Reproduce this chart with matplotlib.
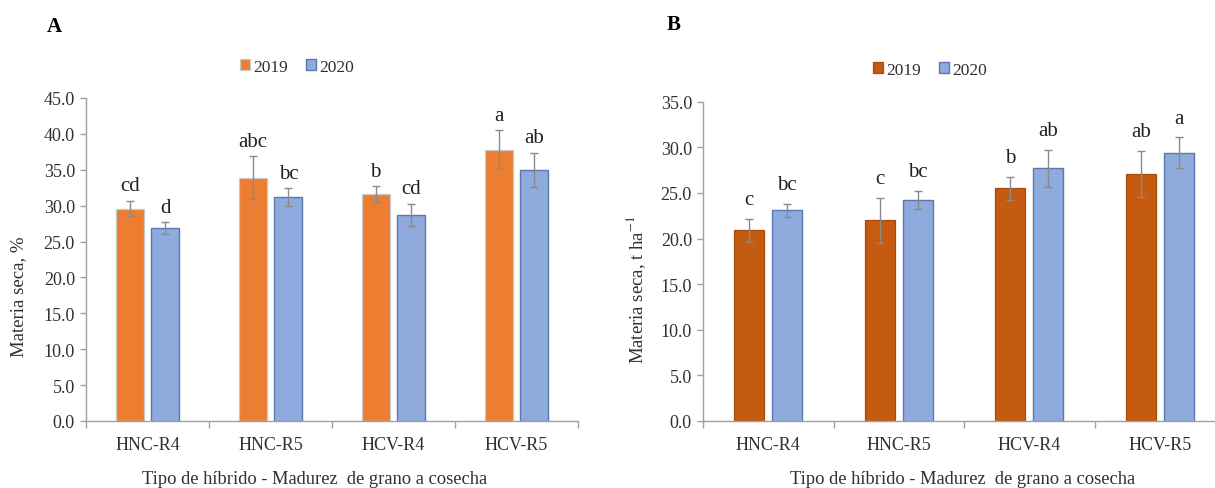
import numpy as np
import matplotlib.pyplot as plt

# Materia seca por tipo de hibrido y madurez, dos campañas
categories = ['HNC-R4', 'HNC-R5', 'HCV-R4', 'HCV-R5']
years = ['2019', '2020']

# Panel A: materia seca, %
pctA_2019 = [29.6, 33.9, 31.6, 37.8]
pctA_2020 = [26.9, 31.2, 28.7, 35.0]
errA_2019 = [1.1, 3.0, 1.1, 2.7]
errA_2020 = [0.8, 1.25, 1.6, 2.4]
letA_2019 = ['cd', 'abc', 'b', 'a']
letA_2020 = ['d', 'bc', 'cd', 'ab']

# Panel B: materia seca, t ha-1
tB_2019 = [20.9, 22.0, 25.5, 27.1]
tB_2020 = [23.1, 24.2, 27.7, 29.4]
errB_2019 = [1.25, 2.45, 1.25, 2.5]
errB_2020 = [0.7, 1.0, 2.05, 1.7]
letB_2019 = ['c', 'c', 'b', 'ab']
letB_2020 = ['bc', 'bc', 'ab', 'a']

plt.rcParams['font.family'] = ['Liberation Serif', 'DejaVu Serif']

W, H = 1215, 489
fig = plt.figure(figsize=(W / 100, H / 100), dpi=100)

axis_col = '#A0A0A0'
text_col = '#303030'
err_col = '#8A8A8A'


def px_axes(left, top, right, bottom):
    return fig.add_axes([left / W, 1 - bottom / H, (right - left) / W, (bottom - top) / H])


def draw_panel(ax, v19, v20, e19, e20, l19, l20, c19, edge19, ymax, lab_off):
    x = np.arange(len(categories))
    width = 0.23
    off = 0.145
    ax.bar(x - off, v19, width, color=c19, edgecolor=edge19, linewidth=0.9, label=years[0], zorder=2)
    ax.bar(x + off, v20, width, color='#8FAADC', edgecolor='#5B77AE', linewidth=1.0, label=years[1], zorder=2)
    ax.errorbar(x - off, v19, yerr=e19, fmt='none', ecolor=err_col, elinewidth=1, capsize=3, capthick=1, zorder=3)
    ax.errorbar(x + off, v20, yerr=e20, fmt='none', ecolor=err_col, elinewidth=1, capsize=3, capthick=1, zorder=3)
    for xi, v, e, t in zip(x - off, v19, e19, l19):
        ax.annotate(t, (xi, v + e), xytext=(0, lab_off), textcoords='offset points',
                    ha='center', va='bottom', fontsize=15, color='#202020')
    for xi, v, e, t in zip(x + off, v20, e20, l20):
        ax.annotate(t, (xi, v + e), xytext=(0, lab_off), textcoords='offset points',
                    ha='center', va='bottom', fontsize=15, color='#202020')

    ax.set_xlim(-0.5, len(categories) - 0.5)
    ax.set_ylim(0, ymax)
    ax.set_yticks(np.arange(0, ymax + 0.1, 5))
    ax.set_yticklabels(['%.1f' % t for t in np.arange(0, ymax + 0.1, 5)])
    ax.set_xticks(np.arange(-0.5, len(categories), 1.0))
    ax.set_xticklabels([])
    ax.set_xticks(x, minor=True)
    ax.set_xticklabels(categories, minor=True)
    ax.tick_params(axis='x', which='minor', length=0, pad=11, labelsize=13, labelcolor=text_col)
    ax.tick_params(axis='x', which='major', length=5, color=axis_col, width=1)
    ax.tick_params(axis='y', length=4, color=axis_col, width=1, labelsize=13, labelcolor=text_col, pad=4)
    for s in ['top', 'right']:
        ax.spines[s].set_visible(False)
    for s in ['left', 'bottom']:
        ax.spines[s].set_color(axis_col)
        ax.spines[s].set_linewidth(1)


# --- Panel A ---
axA = px_axes(86, 99, 578, 422)
draw_panel(axA, pctA_2019, pctA_2020, errA_2019, errA_2020, letA_2019, letA_2020,
           '#ED7D31', '#C8C8C8', 45, 4)
fig.text(54 / W, 1 - 27 / H, 'A', fontsize=15, fontweight='bold', ha='center', va='center')
fig.text(19 / W, 1 - 297 / H, 'Materia seca, %', rotation=90, fontsize=13.5,
         ha='center', va='center', color=text_col)
fig.text(315 / W, 1 - 480 / H, 'Tipo de híbrido - Madurez  de grano a cosecha', fontsize=13.3,
         ha='center', va='center', color=text_col)
hA, lA = axA.get_legend_handles_labels()
fig.legend(hA, lA, loc='center', bbox_to_anchor=(297 / W, 1 - 68 / H), ncol=2, frameon=False,
           fontsize=12.5, handlelength=0.6, handleheight=0.6, handletextpad=0.2, columnspacing=1.0,
           labelcolor=text_col)

# --- Panel B ---
axB = px_axes(703, 102.7, 1225, 422)
draw_panel(axB, tB_2019, tB_2020, errB_2019, errB_2020, letB_2019, letB_2020,
           '#C55A11', '#A84A0C', 35, 7)
fig.text(674 / W, 1 - 25 / H, 'B', fontsize=15, fontweight='bold', ha='center', va='center')
fig.text(636 / W, 1 - 290 / H, 'Materia seca, t ha$^{-1}$', rotation=90, fontsize=13.5,
         ha='center', va='center', color=text_col, math_fontfamily='stix')
fig.text(963 / W, 1 - 480 / H, 'Tipo de híbrido - Madurez  de grano a cosecha', fontsize=13.3,
         ha='center', va='center', color=text_col)
hB, lB = axB.get_legend_handles_labels()
fig.legend(hB, lB, loc='center', bbox_to_anchor=(930 / W, 1 - 71 / H), ncol=2, frameon=False,
           fontsize=12.5, handlelength=0.6, handleheight=0.6, handletextpad=0.2, columnspacing=1.0,
           labelcolor=text_col)

fig.savefig('out.png', dpi=100)
